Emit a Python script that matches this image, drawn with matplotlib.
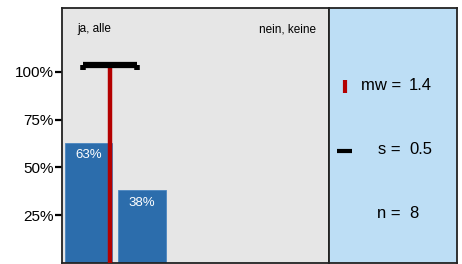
import matplotlib.pyplot as plt
import matplotlib as mpl
import numpy as np

mpl.rcParams.update({
    'font.family': ['Liberation Sans', 'DejaVu Sans'],
    'font.size': 11,
})

# data
categories = [1, 2, 3, 4, 5]
shares = [0.63, 0.38, 0.0, 0.0, 0.0]
bar_labels = ['63%', '38%', '', '', '']
yticks = [0.25, 0.50, 0.75, 1.00]
ytick_labels = ['25%', '50%', '75%', '100%']
end_labels = ['ja, alle', 'nein, keine']
mean_val = 1.4
sd_val = 0.5
n_val = 8

W, H = 462, 264
fig = plt.figure(figsize=(W / 100, H / 100), dpi=100)

# main plot
ax = fig.add_axes([62 / W, 1 / H, 267 / W, 255 / H])
ax.set_facecolor('#e6e6e6')
ax.set_xlim(0.5, 5.5)
ax.set_ylim(0, 1.335)

bars = ax.bar(categories, shares, width=0.89, color='#2c6dac', edgecolor='#4a86c0', linewidth=0.6, zorder=2)
for c, v, lab in zip(categories, shares, bar_labels):
    if lab:
        ax.text(c, v - 0.035, lab, ha='center', va='top', color='white', fontsize=9.5, zorder=3)

# mean line
ax.plot([mean_val, mean_val], [0, 1.03], color='#b40000', lw=3.2, solid_capstyle='butt', zorder=4)
# sd bar
lo, hi = mean_val - sd_val, mean_val + sd_val
ax.plot([lo, hi], [1.035, 1.035], color='black', lw=4.5, solid_capstyle='butt', zorder=5)
for xx in (lo, hi):
    ax.plot([xx, xx], [1.008, 1.035], color='black', lw=4, solid_capstyle='butt', zorder=5)

ax.text(0.78, 1.225, end_labels[0], ha='left', va='center', fontsize=8.5)
ax.text(5.26, 1.225, end_labels[1], ha='right', va='center', fontsize=8.5)

ax.set_yticks(yticks)
ax.set_yticklabels(ytick_labels)
ax.set_xticks([])
ax.tick_params(axis='y', length=5, width=1.6, pad=1, labelsize=11)
for s in ax.spines.values():
    s.set_linewidth(1.3)
    s.set_color('#222222')

# stats panel
ax2 = fig.add_axes([329 / W, 1 / H, 128 / W, 255 / H])
ax2.set_facecolor('#bddef5')
ax2.set_xlim(0, 128)
ax2.set_ylim(255, 0)
ax2.set_xticks([])
ax2.set_yticks([])
for s in ax2.spines.values():
    s.set_linewidth(1.3)
    s.set_color('#222222')

rows = [('mw =', mean_val, 85), ('s =', sd_val, 149), ('n =', n_val, 212)]
for lab, val, yy in rows:
    ax2.text(72, yy - 7, lab, ha='right', va='center', fontsize=12)
    ax2.text(80, yy - 7, str(val), ha='left', va='center', fontsize=12)

ax2.plot([16, 16], [79 - 7, 92 - 7], color='#b40000', lw=3, solid_capstyle='butt')
ax2.plot([8, 23], [150 - 7, 150 - 7], color='black', lw=3, solid_capstyle='butt')

fig.savefig('out.png', dpi=100)
